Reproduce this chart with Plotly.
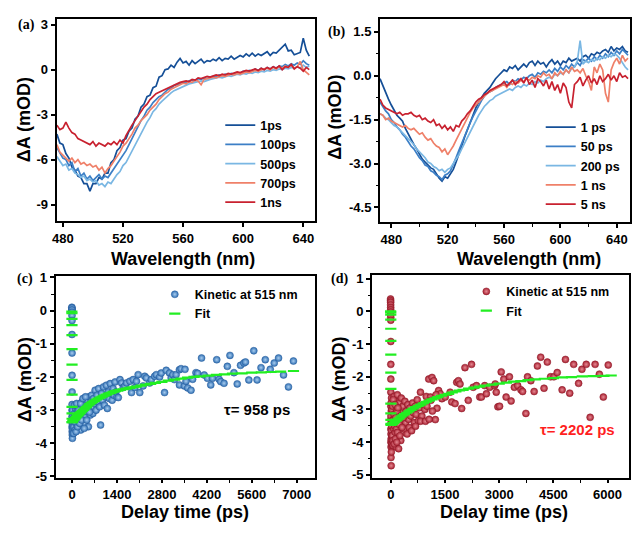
import plotly.graph_objects as go

W, H = 632, 533
def fx(x): return x / W
def fy(y): return 1 - y / H

# ---------------- Panel (a) data ----------------
wl_a = list(range(476, 645, 2))
a_labels = ["1ps", "100ps", "500ps", "700ps", "1ns"]
a_1ps = [-4.3,-4.9,-5.0,-5.6,-5.9,-6.5,-6.7,-7.1,-7.2,-7.6,
         -7.6,-8.1,-7.6,-7.6,-7.2,-7.3,-6.9,-6.9,-6.2,-6.0,
         -5.4,-5.2,-4.7,-4.6,-4.1,-3.9,-3.3,-3.1,-2.5,-2.3,
         -1.8,-1.7,-1.2,-1.1,-0.5,-0.4,0.0,0.05,0.3,0.15,
         0.5,0.75,0.45,0.55,0.3,0.6,0.4,0.55,0.7,0.45,
         0.6,0.55,0.7,0.6,0.8,0.6,0.75,0.7,0.9,0.7,
         0.85,0.95,0.85,1.05,0.9,1.1,0.9,1.05,0.95,1.1,
         1.2,0.95,1.15,1.1,1.3,1.5,1.7,1.25,1.3,1.0,
         1.1,1.15,2.1,1.3,0.9]
a_100ps = [-5.2,-5.6,-5.9,-6.0,-6.4,-6.2,-6.8,-6.6,-7.1,-6.9,
           -7.3,-7.1,-7.4,-7.2,-7.0,-7.3,-7.1,-7.2,-6.9,-6.6,
           -6.3,-6.0,-5.7,-5.4,-5.0,-4.6,-4.1,-3.8,-3.4,-3.1,
           -2.7,-2.5,-2.2,-2.0,-1.8,-1.7,-1.5,-1.3,-1.25,-1.05,
           -1.0,-0.9,-0.85,-0.9,-0.75,-0.7,-0.75,-0.6,-0.65,-0.55,
           -0.6,-0.5,-0.45,-0.5,-0.35,-0.4,-0.3,-0.35,-0.25,-0.3,
           -0.2,-0.25,-0.1,-0.15,-0.05,-0.1,0.05,-0.05,0.1,0.0,
           0.15,0.05,0.2,0.1,0.25,0.2,0.35,0.25,0.4,0.3,
           0.45,0.35,0.6,0.4,0.3]
a_500ps = [-5.8,-6.1,-6.4,-6.3,-6.7,-6.6,-6.9,-7.0,-7.2,-7.1,
           -7.4,-7.3,-7.5,-7.4,-7.7,-7.6,-7.8,-7.5,-7.6,-7.3,
           -7.0,-6.8,-6.4,-6.2,-5.8,-5.5,-5.1,-4.7,-4.3,-3.9,
           -3.5,-3.2,-2.8,-2.6,-2.3,-2.1,-1.9,-1.7,-1.55,-1.4,
           -1.3,-1.2,-1.1,-1.05,-0.95,-0.9,-0.85,-0.8,-0.75,-0.8,
           -0.7,-0.65,-0.6,-0.55,-0.5,-0.55,-0.45,-0.4,-0.45,-0.35,
           -0.3,-0.35,-0.25,-0.3,-0.2,-0.25,-0.15,-0.2,-0.1,-0.15,
           -0.05,-0.1,0.0,-0.05,0.05,0.0,0.1,0.05,0.15,0.1,
           0.2,0.1,0.3,0.15,0.25]
a_700ps = [-5.0,-5.5,-5.7,-5.9,-6.1,-5.9,-6.2,-6.0,-6.3,-6.2,
           -6.4,-6.3,-6.5,-6.4,-6.7,-6.5,-6.9,-6.6,-6.4,-6.1,
           -5.8,-5.5,-5.1,-4.9,-4.6,-4.3,-3.9,-3.7,-3.4,-3.2,
           -3.0,-2.7,-2.5,-2.3,-2.0,-1.8,-1.6,-1.5,-1.3,-1.2,
           -1.1,-1.0,-0.9,-0.95,-0.8,-0.85,-0.7,-0.75,-1.0,-0.65,
           -0.6,-0.55,-0.5,-0.55,-0.45,-0.4,-0.45,-0.35,-0.3,-0.35,
           -0.25,-0.3,-0.2,-0.15,-0.2,-0.1,-0.05,-0.1,0.0,0.05,
           0.1,0.0,0.15,0.05,0.2,0.1,0.25,0.15,0.3,0.1,
           0.2,0.55,0.0,-0.2,-0.35]
a_1ns = [-3.7,-4.0,-3.9,-3.5,-3.9,-4.2,-4.3,-4.6,-4.7,-4.8,
         -4.9,-5.0,-4.8,-5.1,-4.9,-5.0,-5.1,-4.9,-5.0,-4.8,
         -5.0,-4.7,-4.9,-4.4,-4.0,-3.7,-3.4,-3.1,-2.8,-2.5,
         -2.3,-2.0,-1.8,-1.6,-1.5,-1.4,-1.3,-1.2,-1.1,-1.0,
         -0.9,-0.85,-0.8,-0.75,-0.8,-0.65,-0.7,-0.55,-0.6,-0.5,
         -0.45,-0.5,-0.4,-0.35,-0.4,-0.3,-0.35,-0.25,-0.3,-0.2,
         -0.15,-0.2,-0.1,-0.05,-0.1,0.0,0.05,-0.05,0.1,0.0,
         0.15,0.05,0.2,0.1,0.25,0.0,0.2,0.15,0.35,0.05,
         0.2,0.1,-0.1,0.15,0.0]

# ---------------- Panel (b) data ----------------
wl_b = list(range(472, 649, 2))
b_labels = ["1 ps", "50 ps", "200 ps", "1 ns", "5 ns"]
b_1ps = [-0.1,-0.35,-0.55,-0.8,-1.0,-1.2,-1.35,-1.45,-1.55,-1.8,
         -2.0,-2.2,-2.35,-2.5,-2.7,-2.85,-2.95,-3.05,-3.15,-3.2,
         -3.35,-3.5,-3.6,-3.45,-3.5,-3.35,-3.2,-2.95,-2.7,-2.4,
         -2.1,-1.85,-1.55,-1.3,-1.1,-0.9,-0.75,-0.6,-0.5,-0.4,
         -0.25,-0.1,0.0,0.1,0.2,0.15,0.3,0.25,0.35,0.2,
         0.3,0.4,0.3,0.45,0.5,0.35,0.5,0.4,0.45,0.3,
         0.45,0.55,0.4,0.5,0.35,0.5,0.45,0.6,0.5,0.55,
         0.6,0.5,0.65,0.7,0.6,0.75,0.7,0.8,0.75,0.85,
         0.9,0.8,1.0,0.85,0.95,0.9,1.0,0.85,0.8]
b_50ps = [-0.9,-1.05,-1.2,-1.3,-1.5,-1.6,-1.75,-1.85,-2.0,-2.1,
          -2.25,-2.4,-2.5,-2.65,-2.8,-2.9,-3.05,-3.1,-3.25,-3.3,
          -3.4,-3.45,-3.55,-3.4,-3.35,-3.25,-3.05,-2.8,-2.55,-2.3,
          -2.05,-1.85,-1.6,-1.4,-1.2,-1.0,-0.85,-0.7,-0.6,-0.55,
          -0.5,-0.4,-0.35,-0.3,-0.25,-0.2,-0.3,-0.15,-0.2,-0.1,
          -0.15,-0.05,-0.1,0.0,0.05,-0.05,0.1,0.05,0.15,0.1,
          0.2,0.1,0.25,0.15,0.3,0.2,0.35,0.25,0.4,0.3,
          0.45,0.35,0.55,0.5,0.6,0.5,0.65,0.55,0.7,0.6,
          0.75,0.65,0.8,0.7,0.85,0.75,0.9,0.8,0.7]
b_200ps = [-1.3,-1.35,-1.45,-1.5,-1.6,-1.7,-1.75,-1.85,-1.95,-2.05,
           -2.15,-2.25,-2.35,-2.5,-2.6,-2.7,-2.8,-2.95,-3.0,-3.1,
           -3.15,-3.25,-3.2,-3.3,-3.2,-3.15,-3.0,-2.85,-2.7,-2.5,
           -2.3,-2.1,-1.9,-1.7,-1.5,-1.35,-1.2,-1.05,-0.95,-0.85,
           -0.8,-0.7,-0.65,-0.6,-0.55,-0.5,-0.45,-0.5,-0.4,-0.35,
           -0.4,-0.3,-0.35,-0.25,-0.3,-0.2,-0.25,-0.15,-0.2,-0.1,
           -0.05,-0.1,0.05,0.0,0.1,0.05,0.2,0.1,0.25,0.3,
           0.5,1.2,0.4,0.5,0.45,0.55,0.5,0.6,0.55,0.65,
           0.6,0.7,0.65,0.75,0.7,0.6,0.45,0.3,0.2]
b_1ns = [-1.3,-1.35,-1.5,-1.45,-1.55,-1.6,-1.65,-1.7,-1.75,-1.7,
         -1.8,-1.85,-1.8,-1.9,-2.0,-1.95,-2.1,-2.2,-2.15,-2.3,
         -2.4,-2.45,-2.6,-2.5,-2.7,-2.55,-2.4,-2.2,-2.0,-1.8,
         -1.6,-1.4,-1.25,-1.1,-1.0,-0.9,-0.8,-0.7,-0.6,-0.55,
         -0.5,-0.45,-0.4,-0.35,-0.3,-0.4,-0.25,-0.3,-0.2,-0.25,
         -0.15,-0.2,-0.1,-0.15,-0.05,-0.1,0.0,-0.05,0.1,0.0,
         0.05,-0.1,0.1,0.0,0.15,0.05,0.2,0.1,0.3,0.15,
         0.2,0.1,0.25,0.0,-0.2,-0.5,0.3,0.1,0.4,0.2,
         -0.6,-0.9,0.2,0.45,0.6,0.4,0.7,0.5,0.6]
b_5ns = [-0.8,-1.0,-1.1,-1.15,-1.2,-1.25,-1.3,-1.25,-1.35,-1.3,
         -1.3,-1.25,-1.35,-1.4,-1.35,-1.5,-1.45,-1.55,-1.6,-1.5,
         -1.7,-1.65,-1.8,-1.7,-1.85,-1.75,-1.9,-1.7,-1.75,-1.55,
         -1.45,-1.3,-1.2,-1.05,-0.9,-0.8,-0.75,-0.65,-0.6,-0.5,
         -0.45,-0.4,-0.35,-0.3,-0.2,-0.35,-0.25,-0.15,-0.3,-0.2,
         -0.1,-0.25,-0.05,-0.3,-0.15,-0.4,-0.1,-0.2,-0.35,-0.15,
         -0.45,-0.2,-0.5,-0.3,-0.6,-0.25,-0.4,-0.9,-1.1,-0.3,
         -0.2,-0.05,-0.35,-0.15,0.0,-0.25,-0.1,-0.3,0.0,-0.2,
         -0.1,0.05,-0.15,0.0,-0.2,0.1,-0.05,0.0,-0.1]

# ---------------- Panel (c) data ----------------
t_c = [-5,-4,-3,-2.5,-2,-1.5,-1,-0.5,0,0.5,1,1.5,2,2.5,3,4,5,6,7,8,9,10,12,14,16,18,20,22,25,28,
       40,60,80,100,110,130,150,170,190,210,230,250,270,290,310,330,350,370,390,410,
       430,450,470,490,510,530,550,570,590,610,630,650,670,700,720,750,780,800,830,860,
       890,920,950,980,1010,1040,1070,1100,1130,1160,1190,1220,1250,1280,1310,1340,1370,1400,
       50,75,95,125,145,175,205,240,265,300,340,380,420,460,500,547,
       1442,1494,1545,1596,1648,1699,1802,1854,1905,1957,2008,2060,2111,2214,2266,2317,2420,2471,
       2574,2626,2729,2780,2883,2934,3037,3089,3140,3192,3243,3346,
       3398,3347,3501,3520,3552,3604,3707,3758,3861,3912,4036,4118,4221,4323,4376,4509,4582,4632,
       4736,4839,4921,5045,5148,5250,5354,5404,5509,5663,5765,5889,6022,6176,6300,6435,6590,6744,6898]
y_c = [0.1,0.05,0.08,0.0,0.02,-0.05,-0.15,-0.3,-0.72,-1.28,-1.95,-2.45,-2.83,-3.0,-3.2,-3.5,-3.3,-3.65,-3.1,-3.4,
       -3.75,-3.55,-3.85,-3.2,-3.6,-3.0,-3.45,-3.7,-3.3,-3.5,
       -3.25,-3.5,-3.1,-3.6,-2.95,-3.3,-3.45,-3.0,-3.25,-3.55,-2.9,-3.2,-3.6,-3.05,-2.75,-3.35,-3.1,-2.85,-3.4,-2.95,
       -3.2,-2.7,-3.05,-2.85,-3.5,-2.6,-2.95,-3.15,-2.75,-2.55,-2.9,-3.1,-2.65,-2.8,-2.4,-3.0,-2.55,-2.75,-2.35,-2.9,
       -3.45,-2.5,-2.7,-2.3,-2.85,-2.6,-2.25,-2.95,-2.45,-2.65,-2.2,-2.5,-2.7,-2.35,-2.55,-2.15,-2.45,-2.6,
       -3.7,-2.85,-3.35,-3.65,-2.8,-3.5,-3.0,-3.4,-2.8,-3.3,-2.65,-3.55,-2.6,-3.3,-2.95,-3.06,
       -2.62,-2.08,-2.18,-2.32,-2.27,-2.18,-2.13,-2.47,-2.08,-2.32,-2.13,-1.93,-2.47,-2.27,-1.98,-2.03,-2.18,-2.08,
       -1.98,-1.93,-2.0,-1.88,-2.47,-1.8,-1.88,-2.03,-1.93,-2.08,-1.93,-1.78,
       -1.75,-2.24,-2.27,-1.77,-2.13,-2.33,-2.4,-2.07,-1.87,-1.89,-1.43,-1.94,-2.04,-2.24,-2.04,-1.48,-2.07,-2.14,
       -2.19,-1.68,-1.35,-1.87,-2.21,-1.65,-1.58,-1.55,-2.09,-1.21,-2.09,-1.72,-1.48,-1.77,-1.58,-1.43,-1.94,-2.3,-1.52]
t_fit_c = [-5,-3,-2,-1.5,-1,-0.5,0,0.3,0.6,1,1.5,2,3,5,
           20,40,60,80,100,130,160,190,220,250,280,320,360,400,450,500,550,600,650,700,
           760,820,880,940,1000,1070,1140,1210,1280,1350,1420,1500,1600,1700,1800,1900,2000,
           2150,2300,2450,2600,2800,3000,3200,3400,3600,3800,4000,4250,4500,4750,5000,5300,5600,5900,6200,6500,6900]
y_fit_c = [-0.03,-0.08,-0.25,-0.44,-0.74,-1.16,-1.63,-2.09,-2.53,-2.9,-3.1,-3.26,-3.36,-3.36,
           -3.34,-3.31,-3.29,-3.27,-3.25,-3.21,-3.18,-3.15,-3.12,-3.09,-3.06,-3.02,-2.99,-2.95,-2.91,-2.86,-2.82,-2.78,-2.75,-2.72,
           -2.68,-2.65,-2.62,-2.59,-2.56,-2.53,-2.50,-2.48,-2.45,-2.43,-2.41,-2.39,-2.37,-2.35,-2.33,-2.31,-2.29,
           -2.26,-2.23,-2.21,-2.18,-2.15,-2.11,-2.08,-2.05,-2.02,-2.0,-1.98,-1.96,-1.94,-1.92,-1.9,-1.89,-1.87,-1.86,-1.85,-1.84,-1.82]

# ---------------- Panel (d) data ----------------
t_d = [-8,-7,-6,-5,-4.5,-4,-3.5,-3,-2.5,-2,-1.5,-1,-0.5,0,0.5,1,1.5,2,3,4,5,6,7,8,9,10,12,14,16,18,20,22,25,28,30,33,36,
       40,50,60,70,80,90,100,110,120,130,140,150,160,170,180,190,200,215,230,245,260,275,290,305,320,335,350,370,390,410,
       430,450,470,490,510,530,550,575,600,625,650,675,700,730,760,790,820,860,900,940,980,684,821,958,1231,1277,
       45,55,65,85,95,105,115,125,135,155,165,175,185,195,225,250,280,310,340,
       1049,1094,1110,1140,1186,1322,1368,1414,1505,1642,1687,1778,1824,1870,1915,1961,2052,2143,2234,2280,
       2371,2462,2508,2599,2645,2736,2873,2964,1000,1060,1150,1250,
       2890,2918,3010,3055,3128,3192,3283,3329,3420,3511,3602,3648,3739,3784,3876,3967,4058,4149,4241,4332,
       4423,4514,4606,4742,4834,4952,5062,5198,5290,5409,5518,5655,5773,5883,6019]
y_d = [0.38,0.33,0.28,0.2,0.12,0.05,-0.02,-0.1,-0.18,-0.27,-0.92,-1.62,-2.07,-2.47,-2.9,-3.3,-3.6,-4.0,-3.2,-4.47,
       -3.75,-4.15,-2.8,-3.9,-4.72,-3.4,-3.05,-4.3,-3.65,-2.65,-3.95,-3.5,-4.1,-3.0,-3.8,-3.35,-4.05,
       -3.8,-2.9,-4.1,-3.3,-3.6,-2.6,-4.0,-3.2,-3.7,-2.75,-3.45,-4.15,-3.0,-3.55,-2.55,-3.85,-3.25,-4.2,-2.8,-3.5,
       -3.1,-3.95,-2.65,-3.35,-3.7,-2.9,-3.2,-3.6,-2.75,-3.4,
       -3.05,-3.75,-2.85,-3.3,-3.55,-2.95,-3.2,-3.65,-2.8,-3.1,-3.4,-2.9,-3.15,-2.7,-3.35,-2.95,-2.47,-3.2,-2.85,-3.0,
       -2.6,-3.51,-3.36,-3.36,-3.31,-2.96,
       -3.4,-3.95,-2.7,-3.15,-4.05,-3.5,-2.85,-3.9,-3.25,-3.6,-4.0,-3.05,-3.7,-2.95,-3.45,-3.8,-3.2,-3.55,-3.25,
       -2.07,-2.62,-2.72,-2.02,-2.12,-2.42,-2.52,-2.67,-2.62,-2.47,-2.77,-2.82,-2.17,-2.12,-2.22,-2.97,-1.72,-2.72,-1.62,-2.32,
       -2.27,-2.62,-2.62,-2.27,-2.52,-2.32,-2.27,-2.92,-2.9,-3.3,-3.05,-2.55,
       -2.22,-2.47,-2.9,-1.85,-2.07,-2.62,-2.0,-2.74,-2.32,-2.27,-2.4,-2.45,-3.12,-2.0,-2.12,-2.45,-1.67,-1.4,-2.35,-1.55,
       -2.0,-2.0,-1.87,-2.4,-1.47,-2.5,-1.62,-2.2,-1.77,-1.62,-3.24,-1.62,-1.92,-2.62,-1.64]
t_fit_d = [-6,-4,-3,-2,-1.5,-1,-0.6,-0.3,0,0.4,0.8,1.5,3,5,
           20,40,70,100,140,180,230,280,330,380,440,500,560,620,690,760,830,900,980,1060,
           1140,1220,1300,1400,1500,1600,1700,1800,1900,2000,2150,2300,2450,2600,2800,3000,
           3200,3400,3600,3800,4000,4250,4500,4750,5000,5300,5600,5900,6100]
y_fit_d = [0.0,-0.03,-0.1,-0.25,-0.53,-0.9,-1.32,-1.87,-2.37,-2.82,-3.12,-3.32,-3.44,-3.47,
           -3.46,-3.44,-3.42,-3.39,-3.35,-3.31,-3.27,-3.22,-3.18,-3.14,-3.1,-3.06,-3.01,-2.97,-2.93,-2.89,-2.85,-2.81,-2.77,-2.73,
           -2.69,-2.66,-2.62,-2.58,-2.55,-2.52,-2.48,-2.45,-2.42,-2.4,-2.36,-2.33,-2.3,-2.27,-2.24,-2.21,
           -2.18,-2.15,-2.13,-2.1,-2.08,-2.06,-2.04,-2.02,-2.01,-1.99,-1.98,-1.97,-1.96]

# ---------------- Tick labels ----------------
wl_ticks = [480, 520, 560, 600, 640]
a_yticks = [-9, -6, -3, 0, 3]
b_yticks = [-4.5, -3.0, -1.5, 0.0, 1.5]
cd_yticks = [-5, -4, -3, -2, -1, 0, 1]
c_xticks = [0, 1400, 2800, 4200, 5600, 7000]
d_xticks = [0, 1500, 3000, 4500, 6000]

colors = ["#154f97", "#3c7fc6", "#7ab7e3", "#ef8069", "#c8212f"]
FONT = "Liberation Sans"

fig = go.Figure()
for lab, vals, col in zip(a_labels, [a_1ps, a_100ps, a_500ps, a_700ps, a_1ns], colors):
    fig.add_trace(go.Scatter(x=wl_a, y=vals, mode="lines", name=lab,
                             line=dict(color=col, width=1.7), xaxis="x", yaxis="y", legend="legend"))
for lab, vals, col in zip(b_labels, [b_1ps, b_50ps, b_200ps, b_1ns, b_5ns], colors):
    fig.add_trace(go.Scatter(x=wl_b, y=vals, mode="lines", name=lab,
                             line=dict(color=col, width=1.7), xaxis="x2", yaxis="y2", legend="legend2"))

fig.add_trace(go.Scatter(x=t_c, y=y_c, mode="markers", name="Kinetic at 515 nm",
                         marker=dict(size=7, color="#2f6fb3", line=dict(width=0.5, color="#2a5f9c"),
                                     gradient=dict(type="radial", color="#a9cdef")),
                         xaxis="x3", yaxis="y3", legend="legend3"))
fig.add_trace(go.Scatter(x=t_fit_c, y=y_fit_c, mode="markers", name="Fit",
                         marker=dict(symbol="line-ew", size=8, line=dict(width=2.2, color="#22ee22")),
                         xaxis="x3", yaxis="y3", legend="legend3"))
fig.add_trace(go.Scatter(x=t_d, y=y_d, mode="markers", name="Kinetic at 515 nm",
                         marker=dict(size=7, color="#a81f30", line=dict(width=0.5, color="#8c1a28"),
                                     gradient=dict(type="radial", color="#e58a93")),
                         xaxis="x4", yaxis="y4", legend="legend4"))
fig.add_trace(go.Scatter(x=t_fit_d, y=y_fit_d, mode="markers", name="Fit",
                         marker=dict(symbol="line-ew", size=8, line=dict(width=2.2, color="#22ee22")),
                         xaxis="x4", yaxis="y4", legend="legend4"))

tickfont = dict(family=FONT, size=13, color="black", weight="bold")
def ax(**kw):
    d = dict(showline=True, linecolor="black", linewidth=2, mirror=True, ticks="outside",
             ticklen=4, tickwidth=1.5, tickcolor="black", showgrid=False, zeroline=False,
             tickfont=tickfont)
    d.update(kw)
    return d

minor_style = dict(ticks="outside", ticklen=2.5, tickcolor="black", tickwidth=1.2)

fig.update_layout(
    width=W, height=H, margin=dict(l=0, r=0, t=0, b=0),
    paper_bgcolor="white", plot_bgcolor="white",
    xaxis=ax(domain=[fx(53), fx(313)], range=[475.8, 647.5], anchor="y",
             tickvals=wl_ticks, ticktext=[str(v) for v in wl_ticks]),
    yaxis=ax(domain=[fy(220), fy(13)], range=[-10.1, 3.4], anchor="x",
             tickvals=a_yticks, ticktext=[str(v) for v in a_yticks]),
    xaxis2=ax(domain=[fx(379), fx(631)], range=[472, 649.4], anchor="y2",
              tickvals=wl_ticks, ticktext=[str(v) for v in wl_ticks],
              minor=dict(tick0=460, dtick=20, **minor_style)),
    yaxis2=ax(domain=[fy(221), fy(13)], range=[-5.0, 1.95], anchor="x2",
              tickvals=b_yticks, ticktext=["%.1f" % v for v in b_yticks],
              minor=dict(tick0=0, dtick=0.75, **minor_style)),
    xaxis3=ax(domain=[fx(52), fx(313)], range=[-512, 7556], anchor="y3", ticklen=3,
              tickvals=c_xticks, ticktext=[str(v) for v in c_xticks],
              minor=dict(tick0=0, dtick=700, **minor_style)),
    yaxis3=ax(domain=[fy(483), fy(276)], range=[-5.05, 1.05], anchor="x3",
              tickvals=cd_yticks, ticktext=[str(v) for v in cd_yticks],
              minor=dict(tick0=0, dtick=0.5, **minor_style)),
    xaxis4=ax(domain=[fx(371), fx(630)], range=[-520, 6594], anchor="y4", ticklen=3,
              tickvals=d_xticks, ticktext=[str(v) for v in d_xticks],
              minor=dict(tick0=0, dtick=750, **minor_style)),
    yaxis4=ax(domain=[fy(483), fy(275)], range=[-5.1, 1.12], anchor="x4",
              tickvals=cd_yticks, ticktext=[str(v) for v in cd_yticks],
              minor=dict(tick0=0, dtick=0.5, **minor_style)),
    showlegend=True,
)

legfont = dict(family=FONT, size=12.5, color="black", weight="bold")
legcommon = dict(xanchor="left", yanchor="top", bgcolor="rgba(0,0,0,0)", font=legfont,
                 tracegroupgap=0, borderwidth=0)
fig.update_layout(
    legend=dict(x=fx(218), y=fy(107), **legcommon),
    legend2=dict(x=fx(541), y=fy(109), **legcommon),
    legend3=dict(x=fx(152), y=fy(280), **legcommon),
    legend4=dict(x=fx(466), y=fy(277), **legcommon),
)

title_font = dict(family=FONT, size=18, color="black", weight="bold")
anns = [
    ("Wavelength (nm)", 180, 259, 0),
    ("Wavelength (nm)", 529, 259, 0),
    ("Delay time (ps)", 182, 518, 0),
    ("Delay time (ps)", 504, 518, 0),
    ("ΔA (mOD)", 21, 116, -90),
    ("ΔA (mOD)", 334, 114, -90),
    ("ΔA (mOD)", 22, 382, -90),
    ("ΔA (mOD)", 338, 382, -90),
]
for text, x, y, ang in anns:
    fig.add_annotation(text=text, x=fx(x), y=fy(y), xref="paper", yref="paper",
                       showarrow=False, xanchor="center", yanchor="middle",
                       textangle=ang, font=title_font)

for text, x, y in [("(a)", 12, 19), ("(b)", 325, 27), ("(c)", 11, 279), ("(d)", 328, 279)]:
    fig.add_annotation(text=text, x=fx(x), y=fy(y), xref="paper", yref="paper",
                       showarrow=False, xanchor="left", yanchor="middle",
                       font=dict(family="Liberation Serif", size=14, color="black", weight="bold"))

fig.add_annotation(text="τ= 958 ps", x=fx(255), y=fy(413), xref="paper", yref="paper",
                   showarrow=False, xanchor="center", yanchor="middle",
                   font=dict(family=FONT, size=15, color="black", weight="bold"))
fig.add_annotation(text="τ= 2202 ps", x=fx(578), y=fy(433), xref="paper", yref="paper",
                   showarrow=False, xanchor="center", yanchor="middle",
                   font=dict(family=FONT, size=15, color="#ff1f1f", weight="bold"))

fig.write_html("out.html", config={"displayModeBar": False})

# remove the browser's default 8px body margin so the figure fills the window
with open("out.html", "r", encoding="utf-8") as f:
    html = f.read()
html = html.replace("<body>", '<body style="margin:0;overflow:hidden">', 1)
with open("out.html", "w", encoding="utf-8") as f:
    f.write(html)
